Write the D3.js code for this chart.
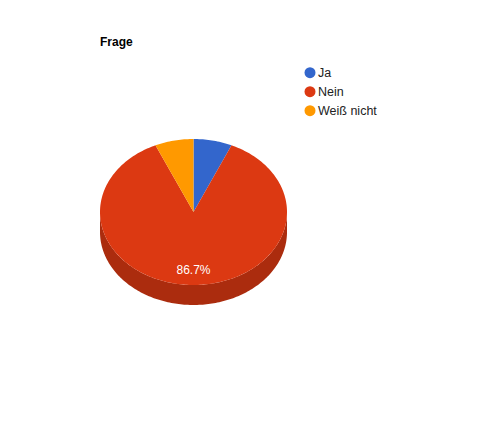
<!DOCTYPE html>
<html><head><meta charset="utf-8">
<script src="https://cdn.jsdelivr.net/npm/d3@7"></script>
<style>body{margin:0;background:#fff}svg{display:block}</style>
</head><body>
<script>
const title = "Frage";
const categories = ["Ja", "Nein", "Weiß nicht"];
const values = [1, 13, 1];
const colors = ["#3366cc", "#dc3912", "#ff9900"];

const W = 500, H = 447;
const cx = 193.5, cy = 212, rx = 93.5, ry = 73, depth = 20;
const font = "'Liberation Sans', Arial, sans-serif";

const svg = d3.select("body").append("svg").attr("width", W).attr("height", H);
svg.append("rect").attr("width", W).attr("height", H).attr("fill", "#fff");

svg.append("text").attr("x", 100).attr("y", 46).attr("font-family", font)
  .attr("font-size", 12).attr("font-weight", "bold").attr("fill", "#000").text(title);

const color = d3.scaleOrdinal().domain(categories).range(colors);
const pie = d3.pie().sort(null).value(d => d.v);
const data = categories.map((c, i) => ({c, v: values[i]}));
const arcs = pie(data);
const total = d3.sum(values);

function pt(a, dy) { return [cx + rx * Math.sin(a), cy - ry * Math.cos(a) + (dy || 0)]; }
function ellArc(a0, a1, dy) {
  const n = Math.max(2, Math.ceil(Math.abs(a1 - a0) / 0.02));
  const pts = [];
  for (let i = 0; i <= n; i++) pts.push(pt(a0 + (a1 - a0) * i / n, dy));
  return pts;
}
const line = d3.line();

// side walls (front half: angles between PI/2 and 3PI/2)
const g = svg.append("g");
arcs.forEach(d => {
  const a0 = Math.max(d.startAngle, Math.PI / 2), a1 = Math.min(d.endAngle, 3 * Math.PI / 2);
  if (a1 <= a0) return;
  const top = ellArc(a0, a1, 0), bot = ellArc(a1, a0, depth);
  g.append("path").attr("d", line(top.concat(bot)) + "Z")
    .attr("fill", d3.color(color(d.data.c)).darker(0.7));
});

// top faces
arcs.forEach(d => {
  const pts = [[cx, cy]].concat(ellArc(d.startAngle, d.endAngle, 0));
  g.append("path").attr("d", line(pts) + "Z").attr("fill", color(d.data.c));
});

// labels
arcs.forEach(d => {
  const frac = d.data.v / total;
  if (frac < 0.1) return;
  const m = (d.startAngle + d.endAngle) / 2;
  const x = cx + rx * 0.79 * Math.sin(m), y = cy - ry * 0.79 * Math.cos(m);
  g.append("text").attr("x", x).attr("y", y + 4).attr("text-anchor", "middle")
    .attr("font-family", font).attr("font-size", 12).attr("fill", "#fff")
    .text((frac * 100).toFixed(1) + "%");
});

// legend
const lg = svg.append("g");
categories.forEach((c, i) => {
  const y = 72.7 + i * 19;
  lg.append("circle").attr("cx", 310).attr("cy", y).attr("r", 5.5).attr("fill", color(c));
  lg.append("text").attr("x", 318).attr("y", y + 4.3).attr("font-family", font)
    .attr("font-size", 12.5).attr("fill", "#222").text(c);
});
</script>
</body></html>
